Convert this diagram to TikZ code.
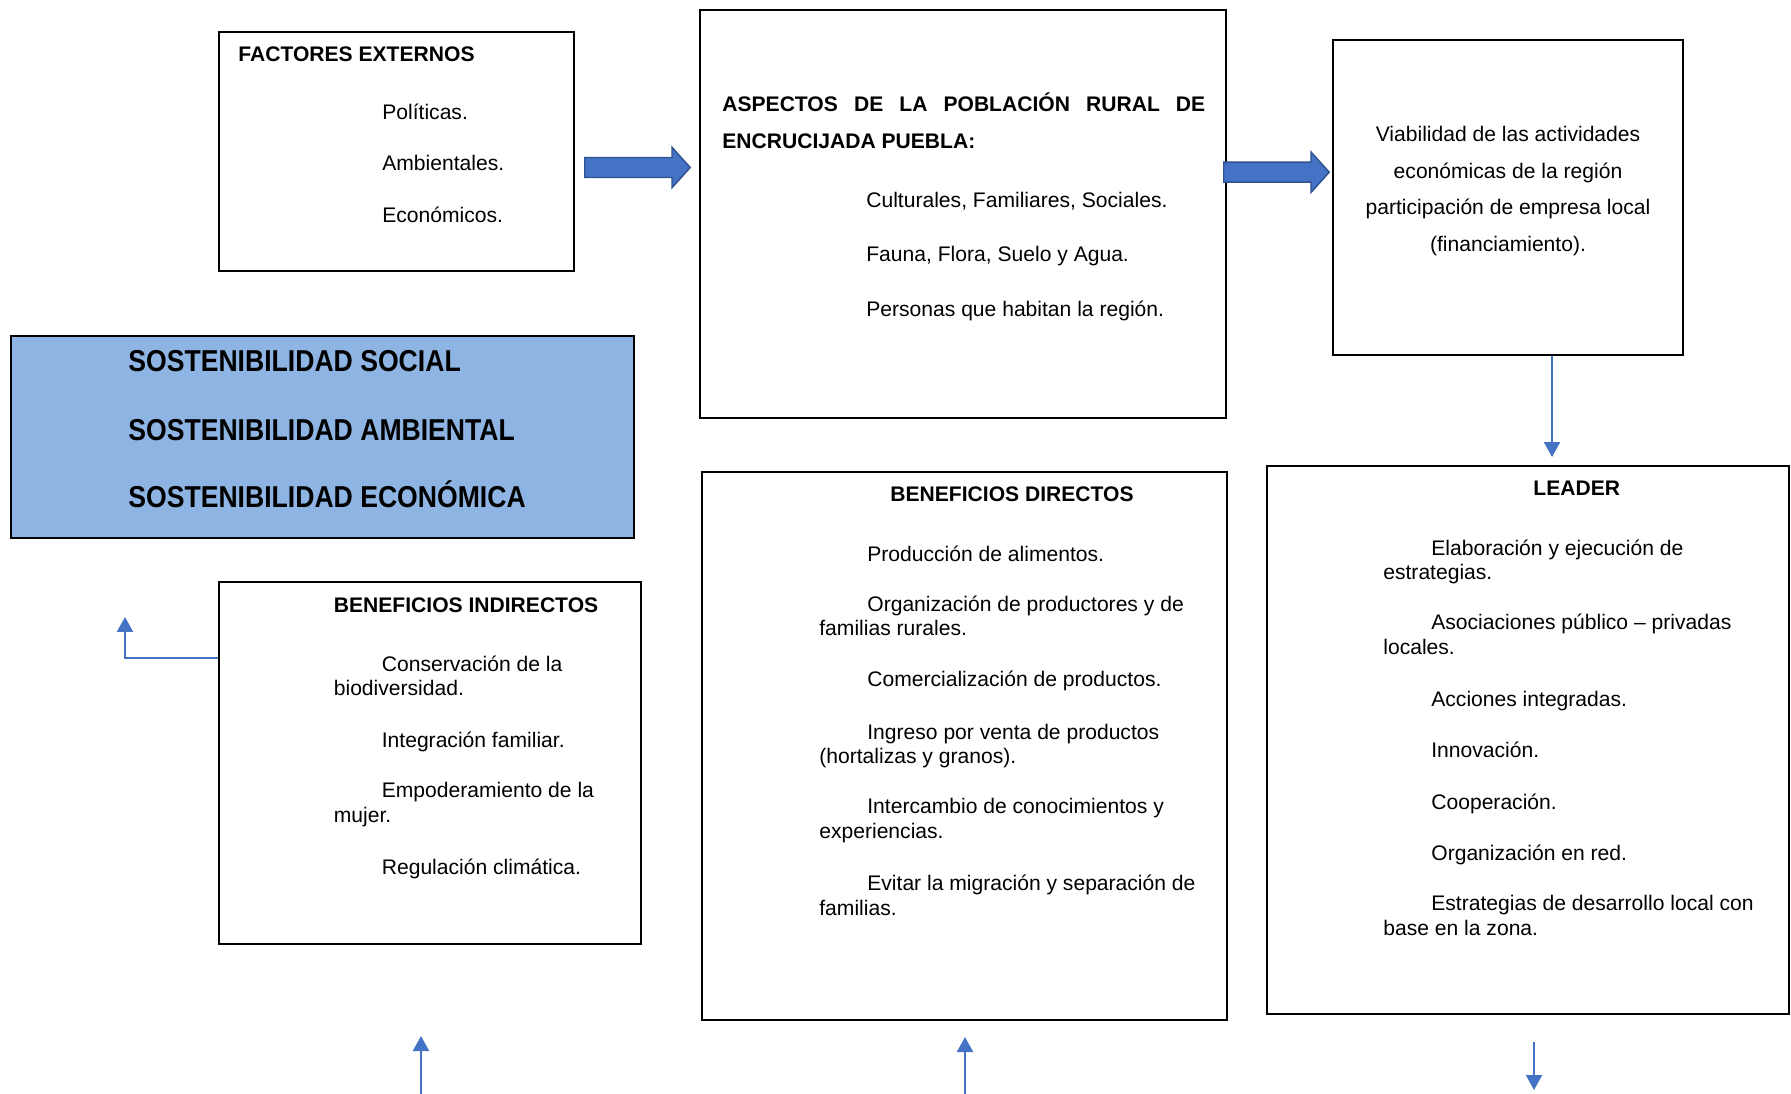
\documentclass[tikz,border=0pt]{standalone}
\usepackage{fontspec}
\setmainfont{Liberation Sans}
\newfontfamily\narrowfont[FakeStretch=0.88]{Liberation Sans}
\usepackage{tikz}
\usepackage{xcolor}
\usetikzlibrary{positioning}
\usetikzlibrary{shapes.arrows, arrows.meta, fit}
\definecolor{arrowblue}{RGB}{68,114,196}
\definecolor{arrowedge}{RGB}{47,82,143}
\definecolor{sostblue}{RGB}{142,180,227}
\tikzstyle{box} = [rectangle, draw, line width=1.1pt, inner sep=0pt]
\tikzstyle{txt} = [anchor=base west, inner sep=0pt, font=\fontsize{12}{14}\selectfont]
\tikzstyle{txtc} = [txt, anchor=base]
\tikzstyle{hd} = [txt, font=\fontsize{12}{14}\selectfont\bfseries]
\tikzstyle{sost} = [txt, font=\narrowfont\fontsize{17.2}{20}\selectfont\bfseries]
\tikzstyle{conn} = [draw=arrowblue, line width=1.2pt, -{Triangle[width=0.32cm,length=0.3cm]}]
\tikzstyle{bigarrow} = [single arrow, draw=arrowedge, fill=arrowblue, line width=0.8pt,
minimum width=0.78cm, minimum height=2.11cm, single arrow head extend=0.205cm,
single arrow tip angle=96, inner xsep=0pt, inner ysep=0.186cm]

\begin{document}
\begin{tikzpicture}[x=0.02cm, y=-0.02cm]
	\useasboundingbox (0,0) rectangle (1791,1094);
	
	% Boxes
	\node [box, fit={(219,32) (574,271)}]						(fe)	{};
	\node [box, fit={(700,10) (1226,418)}]						(asp)	{};
	\node [box, fit={(1333,40) (1683,355)}]						(via)	{};
	\node [box, fill=sostblue, line width=0.9pt, fit={(11,336) (634,538)}] (sos) {};
	\node [box, fit={(219,582) (641,944)}]						(bi)	{};
	\node [box, fit={(702,472) (1227,1020)}]					(bd)	{};
	\node [box, fit={(1267,466) (1789,1014)}]					(lead)	{};
	
	% Factores externos
	\node [hd]  (fe0) at (238,62)  {FACTORES EXTERNOS};
	\node [txt] (fe1) at (382,120) {Políticas.};
	\node [txt] (fe2) at (382,171) {Ambientales.};
	\node [txt] (fe3) at (382,223) {Económicos.};
	
	% Aspectos
	\node [hd]  (asp0) at (722,112)   {\makebox[9.66cm][s]{ASPECTOS DE LA POBLACIÓN RURAL DE}};
	\node [hd]  (asp1) at (722,148.5) {ENCRUCIJADA PUEBLA:};
	\node [txt] (asp2) at (866,208)   {Culturales, Familiares, Sociales.};
	\node [txt] (asp3) at (866,261.6) {Fauna, Flora, Suelo y Agua.};
	\node [txt] (asp4) at (866,316.4) {Personas que habitan la región.};
	
	% Viabilidad
	\node [txtc] (via1) at (1508,141.6) {Viabilidad de las actividades};
	\node [txtc] (via2) at (1508,178.2) {económicas de la región};
	\node [txtc] (via3) at (1508,214.8) {participación de empresa local};
	\node [txtc] (via4) at (1508,251.3) {(financiamiento).};
	
	% Sostenibilidad
	\node [sost] (sos1) at (128,372) {SOSTENIBILIDAD SOCIAL};
	\node [sost] (sos2) at (128,440) {SOSTENIBILIDAD AMBIENTAL};
	\node [sost] (sos3) at (128,507) {SOSTENIBILIDAD ECONÓMICA};
	
	% Beneficios indirectos
	\node [hd]  (bi0) at (333.5,612) {BENEFICIOS INDIRECTOS};
	\node [txt] (bi1) at (381.5,671.7) {Conservación de la};
	\node [txt] (bi2) at (333.5,695.7) {biodiversidad.};
	\node [txt] (bi3) at (381.5,747)   {Integración familiar.};
	\node [txt] (bi4) at (381.5,797.3) {Empoderamiento de la};
	\node [txt] (bi5) at (333.5,822.5) {mujer.};
	\node [txt] (bi6) at (381.5,874)   {Regulación climática.};
	
	% Beneficios directos
	\node [hd]  (bd0) at (890,501.5) {BENEFICIOS DIRECTOS};
	\node [txt] (bd1) at (867,561)   {Producción de alimentos.};
	\node [txt] (bd2) at (867,611)   {Organización de productores y de};
	\node [txt] (bd3) at (819,635)   {familias rurales.};
	\node [txt] (bd4) at (867,686.5) {Comercialización de productos.};
	\node [txt] (bd5) at (867,739)   {Ingreso por venta de productos};
	\node [txt] (bd6) at (819,763)   {(hortalizas y granos).};
	\node [txt] (bd7) at (867,813)   {Intercambio de conocimientos y};
	\node [txt] (bd8) at (819,838.5) {experiencias.};
	\node [txt] (bd9) at (867,890)   {Evitar la migración y separación de};
	\node [txt] (bd10) at (819,915)  {familias.};
	
	% LEADER
	\node [hd]  (le0) at (1533,496)   {LEADER};
	\node [txt] (le1) at (1431,555)   {Elaboración y ejecución de};
	\node [txt] (le2) at (1383,579)   {estrategias.};
	\node [txt] (le3) at (1431,629)   {Asociaciones público – privadas};
	\node [txt] (le4) at (1383,654.5) {locales.};
	\node [txt] (le5) at (1431,706)   {Acciones integradas.};
	\node [txt] (le6) at (1431,757)   {Innovación.};
	\node [txt] (le7) at (1431,809)   {Cooperación.};
	\node [txt] (le8) at (1431,860)   {Organización en red.};
	\node [txt] (le9) at (1431,910)   {Estrategias de desarrollo local con};
	\node [txt] (le10) at (1383,935.5) {base en la zona.};
	
	% Block arrows
	\node [bigarrow] (ar1) at (633,167.5) {};
	\node [bigarrow] (ar2) at (1272,172.2) {};
	
	% Connectors
	\coordinate (c1) at (1552,457);
	\coordinate (e1) at (125,617);
	\coordinate (u1) at (421,1036);
	\coordinate (u2) at (965,1037);
	\coordinate (d1) at (1534,1042);
	\coordinate (d2) at (1534,1090);
	\path [conn] (c1 |- via.south) -- (c1);
	\path [conn] (bi.north west) ++(0,77) -| (e1);
	\path [conn] (u1 |- 0,1094) -- (u1);
	\path [conn] (u2 |- 0,1094) -- (u2);
	\path [conn] (d1) -- (d2);
	
\end{tikzpicture}
\end{document}
